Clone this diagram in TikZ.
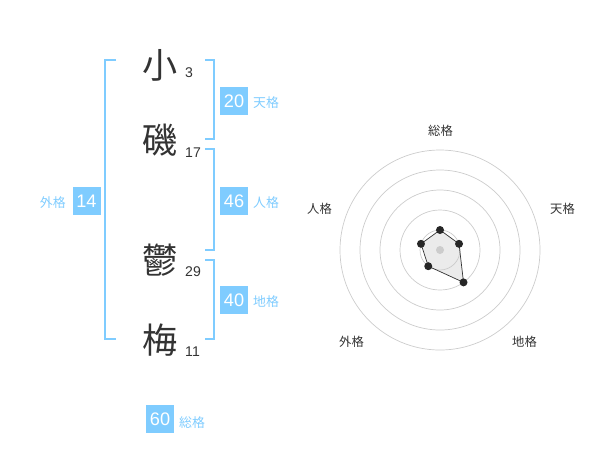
\documentclass[tikz,border=0pt]{standalone}
\usepackage{fontspec}
\setsansfont{Liberation Sans}
\newfontfamily\jpfont{Noto Sans CJK JP}
\definecolor{kakublue}{HTML}{7FCCFF}
\definecolor{kakutext}{HTML}{333333}
\definecolor{ringgray}{HTML}{CCCCCC}
\begin{document}
\begin{tikzpicture}[x=0.03cm, y=-0.03cm, font=\sffamily]
\tikzstyle{kanji}=[font=\jpfont\fontsize{30}{30}\selectfont, text=kakutext, inner sep=0pt]
\tikzstyle{strokes}=[font=\sffamily\fontsize{12}{12}\selectfont, text=kakutext, anchor=west, inner sep=0pt]
\tikzstyle{score}=[fill=kakublue, text=white, minimum width=0.84cm, minimum height=0.84cm, inner sep=0pt, font=\sffamily\fontsize{15.5}{15.5}\selectfont]
\tikzstyle{kaku}=[text=kakublue, font=\jpfont\fontsize{11}{11}\selectfont, inner sep=0pt]
\tikzstyle{bracket}=[draw=kakublue, line width=1.5pt]
\tikzstyle{ring}=[draw=ringgray, line width=0.6pt]
\tikzstyle{axislabel}=[text=kakutext, font=\jpfont\fontsize{10.5}{10.5}\selectfont, inner sep=0pt]
\tikzstyle{dot}=[circle, fill=black!85, inner sep=0pt, minimum size=0.24cm]
\useasboundingbox (0,0) rectangle (600,470);
% name
\node[kanji] (c1) at (160,65) {小};  \node[strokes] (s1) at (185,73) {3};
\node[kanji] (c2) at (160,140) {磯}; \node[strokes] (s2) at (185,153) {17};
\node[kanji] (c3) at (160,260) {鬱}; \node[strokes] (s3) at (185,272) {29};
\node[kanji] (c4) at (160,340) {梅}; \node[strokes] (s4) at (185,352) {11};
% brackets
\draw[bracket] (116,60) -- (105,60) -- (105,339) -- (116,339);
\draw[bracket] (205,60) -- (214,60) -- (214,139) -- (205,139);
\draw[bracket] (205,149) -- (214,149) -- (214,250) -- (205,250);
\draw[bracket] (205,260) -- (214,260) -- (214,339) -- (205,339);
% scores
\node[score] (ten) at (234,101) {20}; \node[kaku, anchor=west] (tenl) at (253,103) {天格};
\node[score] (jin) at (234,201) {46}; \node[kaku, anchor=west] (jinl) at (253,203) {人格};
\node[score] (chi) at (234,300) {40}; \node[kaku, anchor=west] (chil) at (253,302) {地格};
\node[score] (gai) at (86.5,201) {14}; \node[kaku, anchor=east] (gail) at (66,203) {外格};
\node[score] (sou) at (160,419) {60}; \node[kaku, anchor=west] (soul) at (179,423) {総格};
% radar
\coordinate (c) at (440,250);
\coordinate (psou) at ([shift={(90:0.6cm)}]c);
\coordinate (pten) at ([shift={(18:0.6cm)}]c);
\coordinate (pchi) at ([shift={(-54:1.2cm)}]c);
\coordinate (pgai) at ([shift={(-126:0.6cm)}]c);
\coordinate (pjin) at ([shift={(162:0.6cm)}]c);
\fill[black!8] (psou) -- (pten) -- (pchi) -- (pgai) -- (pjin) -- cycle;
\foreach \r in {0.6,1.2,1.8,2.4,3.0}
  \draw[ring] (c) circle[radius=\r cm];
\fill[ringgray] (c) circle[radius=0.12cm];
\draw[kakutext, line width=0.6pt] (psou) -- (pten) -- (pchi) -- (pgai) -- (pjin) -- cycle;
\foreach \p in {psou,pten,pchi,pgai,pjin}
  \node[dot] at (\p) {};
\node[axislabel] (asou) at (440.5,131) {総格};
\node[axislabel] (aten) at (562.5,209) {天格};
\node[axislabel] (ajin) at (319.5,209) {人格};
\node[axislabel] (agai) at (351.5,342) {外格};
\node[axislabel] (achi) at (524.5,342) {地格};
\end{tikzpicture}
\end{document}
